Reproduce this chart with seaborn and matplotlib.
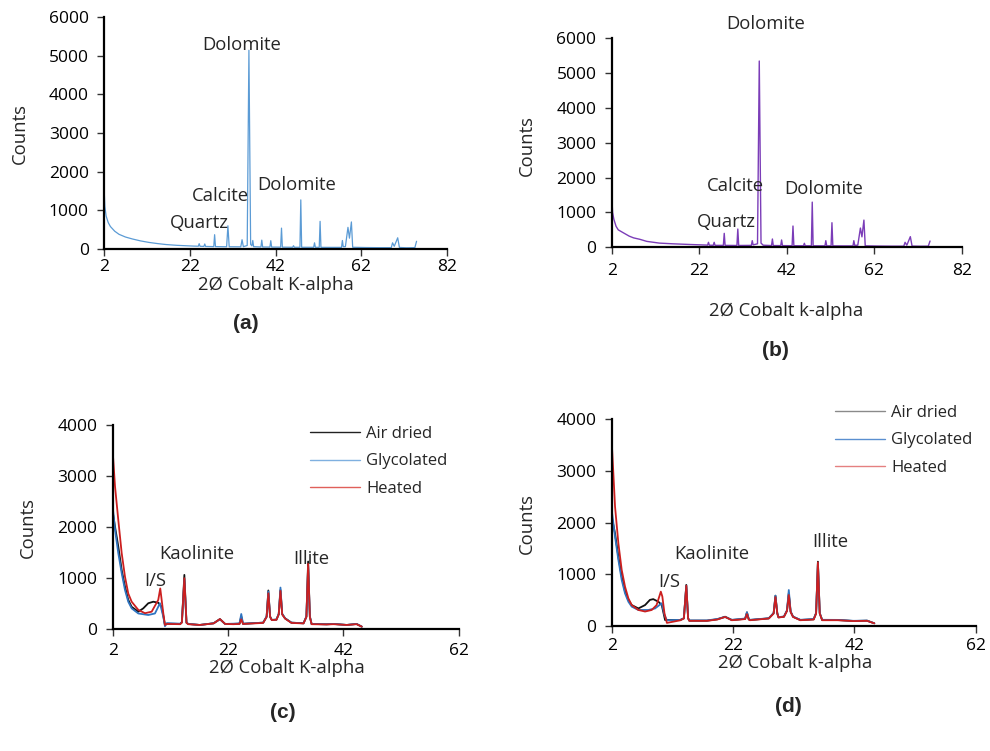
import matplotlib
matplotlib.use("Agg")
import matplotlib.pyplot as plt
from matplotlib.lines import Line2D
import numpy as np
import pandas as pd
import seaborn as sns

# ---------------- bulk XRD patterns (2-theta, counts) ----------------
A_TWO_THETA = [2.0, 2.2, 2.5, 3.0, 3.5, 4.5, 5.5, 7.0, 8.6, 10.5, 12.5, 14.5, 16.5, 19.0, 21.0, 23.0,
               24.0, 24.2, 24.4, 25.3, 25.5, 25.7, 27.6, 27.8, 28.0, 30.6, 30.9, 31.2,
               33.9, 34.2, 34.5, 35.4, 35.8, 36.2, 36.5, 36.7, 36.9, 38.6, 38.8, 39.0,
               40.7, 40.9, 41.1, 43.2, 43.4, 43.6, 46.0, 46.2, 46.4, 47.7, 47.9, 48.1,
               50.9, 51.1, 51.3, 52.2, 52.4, 52.6, 55.0, 57.4, 57.6, 57.8, 58.3,
               58.9, 59.25, 59.7, 60.0, 63.0, 66.0, 69.0, 69.3, 69.7, 70.5, 70.9, 72.5, 74.5, 74.9]
A_COUNTS = [1620, 1100, 850, 680, 580, 460, 380, 310, 260, 210, 170, 140, 115, 95, 85, 75,
            72, 138, 70, 68, 130, 66, 62, 370, 62, 58, 600, 58,
            56, 240, 60, 90, 5140, 120, 80, 220, 60, 52, 230, 52,
            50, 215, 50, 48, 540, 48, 45, 85, 45, 45, 1270, 45,
            44, 160, 44, 43, 715, 43, 42, 42, 220, 60, 60,
            560, 280, 700, 45, 38, 35, 35, 160, 70, 290, 40, 32, 35, 200]

B_TWO_THETA = [2.0, 2.2, 2.5, 3.0, 3.5, 4.6, 6.0, 7.0, 8.4, 10.0, 12.9, 16.0, 20.0, 23.5,
               23.9, 24.1, 24.3, 25.2, 25.4, 25.6, 27.5, 27.7, 27.9, 30.6, 30.8, 31.0,
               33.9, 34.1, 34.3, 35.3, 35.7, 36.1, 36.6, 38.5, 38.7, 38.9,
               40.6, 40.8, 41.0, 43.2, 43.4, 43.6, 45.8, 46.0, 46.2, 47.6, 47.8, 48.0,
               50.7, 50.9, 51.1, 52.1, 52.3, 52.5, 55.0, 57.1, 57.3, 57.5, 58.2,
               58.8, 59.15, 59.6, 59.9, 63.0, 66.0, 68.7, 69.0, 69.4, 70.2, 70.6, 72.5, 74.3, 74.7]
B_COUNTS = [1540, 1000, 800, 600, 500, 420, 320, 270, 230, 170, 120, 100, 80, 65,
            62, 143, 60, 58, 143, 56, 55, 400, 55, 52, 524, 52,
            55, 190, 70, 100, 5340, 120, 60, 50, 238, 50,
            48, 210, 48, 46, 610, 46, 44, 115, 44, 44, 1295, 44,
            42, 190, 42, 42, 705, 42, 40, 40, 190, 55, 60,
            552, 300, 780, 42, 35, 32, 32, 143, 60, 305, 35, 30, 32, 180]

# ---------------- clay fraction patterns ----------------
C_AIR_X = [2.0, 2.4, 2.97, 3.56, 4.13, 4.7, 5.29, 6.44, 7.3, 8.17, 9.04, 9.9, 10.5, 11.06, 11.4, 13.7,
           14.0, 14.43, 14.8, 15.1, 17.1, 19.5, 20.6, 21.5, 22.9, 24.0, 24.3, 24.6, 28.1, 28.7, 29.0,
           29.3, 29.6, 30.4, 30.8, 31.1, 31.4, 31.9, 33.0, 35.1, 35.6, 35.9, 36.2, 36.5, 39.1, 40.3,
           42.6, 44.3, 45.2]
C_AIR_Y = [2300, 2010, 1620, 1160, 835, 575, 440, 345, 410, 510, 540, 520, 440, 90, 110, 105,
           140, 1065, 130, 105, 85, 118, 200, 105, 105, 110, 250, 108, 130, 250, 760,
           250, 183, 190, 300, 770, 300, 215, 130, 118, 250, 1327, 250, 105, 98, 105,
           85, 105, 52]
C_GLY_X = [2.0, 2.4, 2.97, 3.56, 4.13, 4.7, 5.29, 6.44, 8.17, 9.33, 10.2, 10.77, 11.06, 11.4, 13.7,
           14.0, 14.43, 14.8, 15.1, 17.1, 19.5, 20.6, 21.5, 22.9, 24.0, 24.3, 24.6, 28.1, 28.7, 29.0,
           29.3, 29.6, 30.4, 30.8, 31.1, 31.4, 31.9, 33.0, 35.1, 35.6, 35.9, 36.2, 36.5, 39.1, 40.3,
           42.6, 44.3, 45.2]
C_GLY_Y = [2400, 1950, 1490, 1100, 770, 540, 410, 310, 280, 310, 510, 250, 60, 120, 110,
           140, 970, 130, 105, 85, 118, 195, 105, 110, 115, 300, 110, 130, 250, 740,
           250, 183, 190, 300, 817, 300, 215, 130, 118, 250, 1230, 250, 105, 98, 105,
           85, 105, 52]
C_HEAT_X = [2.0, 2.4, 2.97, 3.56, 4.13, 4.7, 5.29, 6.44, 7.6, 8.76, 9.9, 10.25, 10.77, 11.06, 11.4, 13.7,
            14.0, 14.43, 14.8, 15.1, 17.1, 19.5, 20.6, 21.5, 22.9, 24.0, 24.3, 24.6, 28.1, 28.7, 29.0,
            29.3, 29.6, 30.4, 30.8, 31.1, 31.4, 31.9, 33.0, 35.1, 35.6, 35.9, 36.2, 36.5, 39.1, 40.3,
            42.6, 44.3, 45.2]
C_HEAT_Y = [3480, 2800, 2140, 1490, 1030, 700, 540, 380, 315, 345, 575, 800, 320, 85, 105, 100,
            130, 1000, 125, 100, 85, 115, 200, 105, 100, 105, 196, 105, 125, 240, 705,
            240, 180, 185, 290, 750, 290, 210, 125, 115, 240, 1280, 240, 100, 95, 100,
            85, 100, 52]

D_AIR_X = [2.0, 2.55, 3.1, 3.65, 4.2, 4.75, 5.3, 6.4, 7.5, 8.3, 8.85, 9.7, 10.25, 10.8, 11.1, 13.3,
           13.9, 14.3, 14.6, 14.8, 17.7, 19.4, 20.7, 21.8, 23.2, 24.0, 24.3, 24.6, 24.8, 27.9, 28.7,
           29.0, 29.3, 29.5, 30.4, 30.9, 31.2, 31.5, 31.9, 33.1, 35.3, 35.7, 36.0, 36.3, 36.7, 39.2,
           41.9, 44.1, 45.3]
D_AIR_Y = [2115, 1790, 1340, 955, 665, 505, 405, 340, 405, 505, 520, 470, 405, 115, 116, 116,
           150, 795, 150, 103, 103, 130, 180, 116, 130, 140, 265, 130, 116, 148, 250,
           587, 250, 168, 180, 300, 632, 280, 180, 116, 130, 250, 1245, 250, 116, 116,
           97, 103, 52]
D_GLY_X = [2.0, 2.55, 3.1, 3.65, 4.2, 4.75, 5.3, 6.4, 8.05, 9.15, 10.25, 10.7, 11.1, 13.3,
           13.9, 14.3, 14.6, 14.8, 17.7, 19.4, 20.7, 21.8, 23.2, 24.0, 24.3, 24.6, 24.8, 27.9, 28.7,
           29.0, 29.3, 29.5, 30.4, 30.9, 31.2, 31.5, 31.9, 33.1, 35.3, 35.7, 36.0, 36.3, 36.7, 39.2,
           41.9, 44.1, 45.3]
D_GLY_Y = [2245, 1730, 1280, 890, 630, 470, 375, 310, 310, 340, 440, 215, 110, 118,
           150, 780, 150, 108, 108, 135, 175, 120, 135, 145, 265, 135, 120, 150, 250,
           587, 250, 170, 185, 300, 697, 280, 180, 120, 135, 250, 1220, 250, 120, 118,
           100, 105, 52]
D_HEAT_X = [2.0, 2.3, 2.55, 3.1, 3.65, 4.2, 4.75, 5.3, 6.4, 7.5, 8.6, 9.4, 10.1, 10.35, 10.7, 11.1, 13.3,
            13.9, 14.3, 14.6, 14.8, 17.7, 19.4, 20.7, 21.8, 23.2, 24.0, 24.3, 24.6, 24.8, 27.9, 28.7,
            29.0, 29.3, 29.5, 30.4, 30.9, 31.2, 31.5, 31.9, 33.1, 35.3, 35.7, 36.0, 36.3, 36.7, 39.2,
            41.9, 44.1, 45.3]
D_HEAT_Y = [3570, 2890, 2310, 1600, 1085, 760, 535, 405, 310, 280, 310, 405, 665, 570, 245, 60, 110,
            145, 780, 145, 100, 100, 125, 175, 112, 125, 135, 230, 125, 112, 145, 240,
            560, 240, 165, 178, 290, 600, 270, 175, 112, 125, 240, 1230, 240, 112, 112,
            95, 100, 52]

TREATMENTS = ["Air dried", "Glycolated", "Heated"]

W, H = 990, 751
sns.set_style("ticks")
plt.rcParams["font.family"] = ["Open Sans", "DejaVu Sans"]

fig = plt.figure(figsize=(W / 100, H / 100), dpi=100)


def box(left, top, right, bottom):
    return [left / W, 1 - bottom / H, (right - left) / W, (bottom - top) / H]


def fx(x):
    return x / W


def fy(y):
    return 1 - y / H


TICK_FS = 12.5
LABEL_FS = 13.3


def style_axis(ax, xmax, ymax, ystep, xpad):
    sns.despine(ax=ax)
    for s in ("left", "bottom"):
        ax.spines[s].set_linewidth(1.6)
        ax.spines[s].set_color("black")
    ax.set_xlim(2, xmax)
    ax.set_ylim(0, ymax)
    ax.set_xticks(np.arange(2, xmax + 1, 20))
    ax.set_yticks(np.arange(0, ymax + 1, ystep))
    ax.tick_params(axis="both", length=5, width=1.0, color="#333333",
                   labelsize=TICK_FS, labelcolor="black")
    ax.tick_params(axis="y", pad=6)
    ax.tick_params(axis="x", pad=xpad)
    ax.set_xlabel("")
    ax.set_ylabel("")


ax_a = fig.add_axes(box(104, 17, 447, 249))
ax_b = fig.add_axes(box(611.7, 38, 962, 247.3))
ax_c = fig.add_axes(box(112.7, 425, 458.6, 629.3))
ax_d = fig.add_axes(box(611.7, 419.3, 975.6, 626))

sns.lineplot(x=A_TWO_THETA, y=A_COUNTS, ax=ax_a, color="#5b9bd5", linewidth=0.9,
             estimator=None, sort=False)
sns.lineplot(x=B_TWO_THETA, y=B_COUNTS, ax=ax_b, color="#7b3db8", linewidth=1.0,
             estimator=None, sort=False)

clay_c = pd.concat([
    pd.DataFrame({"two_theta": C_AIR_X, "counts": C_AIR_Y, "treatment": TREATMENTS[0]}),
    pd.DataFrame({"two_theta": C_GLY_X, "counts": C_GLY_Y, "treatment": TREATMENTS[1]}),
    pd.DataFrame({"two_theta": C_HEAT_X, "counts": C_HEAT_Y, "treatment": TREATMENTS[2]}),
])
clay_d = pd.concat([
    pd.DataFrame({"two_theta": D_AIR_X, "counts": D_AIR_Y, "treatment": TREATMENTS[0]}),
    pd.DataFrame({"two_theta": D_GLY_X, "counts": D_GLY_Y, "treatment": TREATMENTS[1]}),
    pd.DataFrame({"two_theta": D_HEAT_X, "counts": D_HEAT_Y, "treatment": TREATMENTS[2]}),
])
clay_palette = {"Air dried": "#111111", "Glycolated": "#2f74c0", "Heated": "#cc1f1f"}

for ax, df in ((ax_c, clay_c), (ax_d, clay_d)):
    sns.lineplot(data=df, x="two_theta", y="counts", hue="treatment", palette=clay_palette,
                 hue_order=TREATMENTS, linewidth=1.3, estimator=None, sort=False,
                 legend=False, ax=ax)

style_axis(ax_a, 82, 6000, 1000, 2.5)
style_axis(ax_b, 82, 6000, 1000, 6)
style_axis(ax_c, 62, 4000, 1000, 5)
style_axis(ax_d, 62, 4000, 1000, 4)

# legends for the clay panels
legend_c = [Line2D([], [], color=c, lw=1.0) for c in ("#222222", "#7fb0e0", "#e0605a")]
legend_d = [Line2D([], [], color=c, lw=1.0) for c in ("#8a8a8a", "#5a8fd0", "#e58080")]
ax_c.legend(legend_c, TREATMENTS, loc="upper left", bbox_to_anchor=(fx(303), fy(419)),
            bbox_transform=fig.transFigure, frameon=False, fontsize=12,
            handlelength=3.0, handletextpad=0.4, labelspacing=0.7, borderaxespad=0)
ax_d.legend(legend_d, TREATMENTS, loc="upper left", bbox_to_anchor=(fx(828), fy(398)),
            bbox_transform=fig.transFigure, frameon=False, fontsize=12,
            handlelength=3.0, handletextpad=0.4, labelspacing=0.7, borderaxespad=0)

# mineral annotations
notes = [
    ("Dolomite", 241.7, 45), ("Calcite", 220.3, 196), ("Dolomite", 297, 185), ("Quartz", 199, 223),
    ("Dolomite", 766, 24), ("Calcite", 735.3, 186), ("Dolomite", 824, 189), ("Quartz", 726.5, 222),
    ("Kaolinite", 197.3, 554), ("I/S", 155, 581), ("Illite", 311.3, 559),
    ("Kaolinite", 712.3, 554), ("I/S", 669, 582), ("Illite", 830.7, 542),
]
for text, x, y in notes:
    fig.text(fx(x), fy(y), text, ha="center", va="center", fontsize=LABEL_FS)

# axis titles and panel letters
xlabels = [("2Ø Cobalt K-alpha", 276, 285), ("2Ø Cobalt k-alpha", 786, 311),
           ("2Ø Cobalt K-alpha", 287, 668), ("2Ø Cobalt k-alpha", 795, 663)]
for text, x, y in xlabels:
    fig.text(fx(x), fy(y), text, ha="center", va="center", fontsize=LABEL_FS)

for text, x, y in [("Counts", 20, 133), ("Counts", 527, 145), ("Counts", 28, 527), ("Counts", 527, 523)]:
    fig.text(fx(x), fy(y), text, ha="center", va="center", rotation=90, fontsize=LABEL_FS)

for text, x, y in [("(a)", 246, 323), ("(b)", 775, 351), ("(c)", 283, 712), ("(d)", 788, 707)]:
    fig.text(fx(x), fy(y), text, ha="center", va="center", fontsize=15, fontweight="bold",
             family=["Liberation Sans", "DejaVu Sans"])

fig.savefig("out.png", dpi=100, facecolor="white")
